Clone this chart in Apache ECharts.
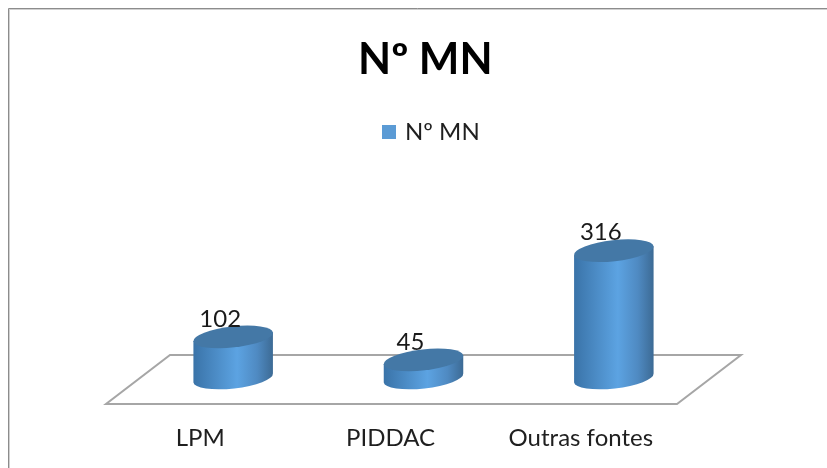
<!DOCTYPE html>
<html>
<head>
<meta charset="utf-8">
<style>
  html, body { margin: 0; padding: 0; background: #fff; }
  #chart { width: 827px; height: 468px; }
</style>
<script src="https://cdn.jsdelivr.net/npm/echarts@6/dist/echarts.min.js"></script>
</head>
<body>
<div id="chart"></div>
<script>
const seriesName = 'Nº MN';
const categories = ['LPM', 'PIDDAC', 'Outras fontes'];
const values = [102, 45, 316];

const fontFamily = 'Lato, "Open Sans", sans-serif';
const RX = 40;
const RY = 10.5;
const TILT = 6.4;

function ellipsePoints(cx, cy) {
  const a = (TILT * Math.PI) / 180;
  const dx = RX * Math.cos(a);
  const dy = RX * Math.sin(a);
  return { lx: cx - dx, ly: cy + dy, rx: cx + dx, ry: cy - dy };
}

function renderCylinder(params, api) {
  const x = api.coord([api.value(0), 0])[0];
  const yBase = api.coord([api.value(0), 0])[1];
  const yTop = api.coord([api.value(0), api.value(1)])[1];
  const b = ellipsePoints(x, yBase);
  const t = ellipsePoints(x, yTop);
  const arc = `A${RX} ${RY} ${-TILT} 0`;
  return {
    type: 'group',
    children: [
      {
        type: 'path',
        shape: {
          pathData: `M${t.lx} ${t.ly}L${b.lx} ${b.ly}${arc} 0 ${b.rx} ${b.ry}L${t.rx} ${t.ry}Z`,
        },
        style: {
          fill: new echarts.graphic.LinearGradient(0, 0, 1, 0, [
            { offset: 0, color: '#3a73a8' },
            { offset: 0.55, color: '#5ca3e2' },
            { offset: 0.8, color: '#4f8ac2' },
            { offset: 1, color: '#3c6a94' },
          ]),
        },
      },
      {
        type: 'path',
        shape: {
          pathData: `M${t.lx} ${t.ly}${arc} 1 ${t.rx} ${t.ry}${arc} 1 ${t.lx} ${t.ly}Z`,
        },
        style: { fill: '#4478a6' },
      },
      {
        type: 'text',
        x: x - 13,
        y: yTop - 18,
        style: {
          text: String(api.value(1)),
          fontFamily,
          fontSize: 24,
          fill: '#1a1a1a',
          align: 'center',
          verticalAlign: 'middle',
        },
      },
    ],
  };
}

// chao do grafico, calculado a partir da grelha
function renderFloor(params, api) {
  const cs = params.coordSys;
  const y = api.coord([0, 0])[1];
  const hw = 32;
  const front = y + 26;
  const back = y - 23;
  return {
    type: 'polygon',
    shape: {
      points: [
        [cs.x - hw, front],
        [cs.x + cs.width - hw, front],
        [cs.x + cs.width + hw, back],
        [cs.x + hw, back],
      ],
    },
    style: { fill: '#fff', stroke: '#a6a6a6', lineWidth: 2 },
  };
}

const chart = echarts.init(document.getElementById('chart'));
chart.setOption({
  animation: false,
  backgroundColor: '#fff',
  graphic: [
    { type: 'line', shape: { x1: 8.5, y1: 8.5, x2: 827, y2: 8.5 }, style: { stroke: '#8c8c8c', lineWidth: 1 } },
    { type: 'line', shape: { x1: 8.5, y1: 8.5, x2: 8.5, y2: 468 }, style: { stroke: '#8c8c8c', lineWidth: 1 } },
    { type: 'line', shape: { x1: 9, y1: 9.5, x2: 827, y2: 9.5 }, style: { stroke: '#d0d0d0', lineWidth: 1 } },
    { type: 'line', shape: { x1: 9.5, y1: 9, x2: 9.5, y2: 468 }, style: { stroke: '#d0d0d0', lineWidth: 1 } },
  ],
  title: {
    text: seriesName,
    left: 353,
    top: 34,
    textStyle: { fontFamily, fontSize: 43, fontWeight: 'bold', color: '#000' },
  },
  legend: {
    data: [seriesName],
    top: 115,
    left: 377,
    icon: 'rect',
    itemWidth: 14,
    itemHeight: 14,
    itemGap: 8,
    textStyle: { fontFamily, fontSize: 24, color: '#1f1f1f', padding: [0, 0, 0, 4] },
  },
  grid: { left: 138, right: 118, top: 237, bottom: 90 },
  xAxis: {
    type: 'category',
    data: categories,
    axisLine: { show: false },
    axisTick: { show: false },
    axisLabel: {
      fontFamily,
      fontSize: 24,
      color: '#1f1f1f',
      margin: 48,
      padding: [0, 66, 0, 0],
    },
  },
  yAxis: { type: 'value', min: 0, max: 350, interval: 50, show: false },
  series: [
    {
      name: 'chao',
      type: 'custom',
      renderItem: renderFloor,
      data: [[0, 0]],
      silent: true,
      z: 1,
    },
    {
      name: seriesName,
      type: 'custom',
      renderItem: renderCylinder,
      data: values.map((v, i) => [i, v]),
      itemStyle: { color: '#5b9bd5' },
      encode: { x: 0, y: 1 },
      z: 2,
    },
  ],
});
</script>
</body>
</html>
